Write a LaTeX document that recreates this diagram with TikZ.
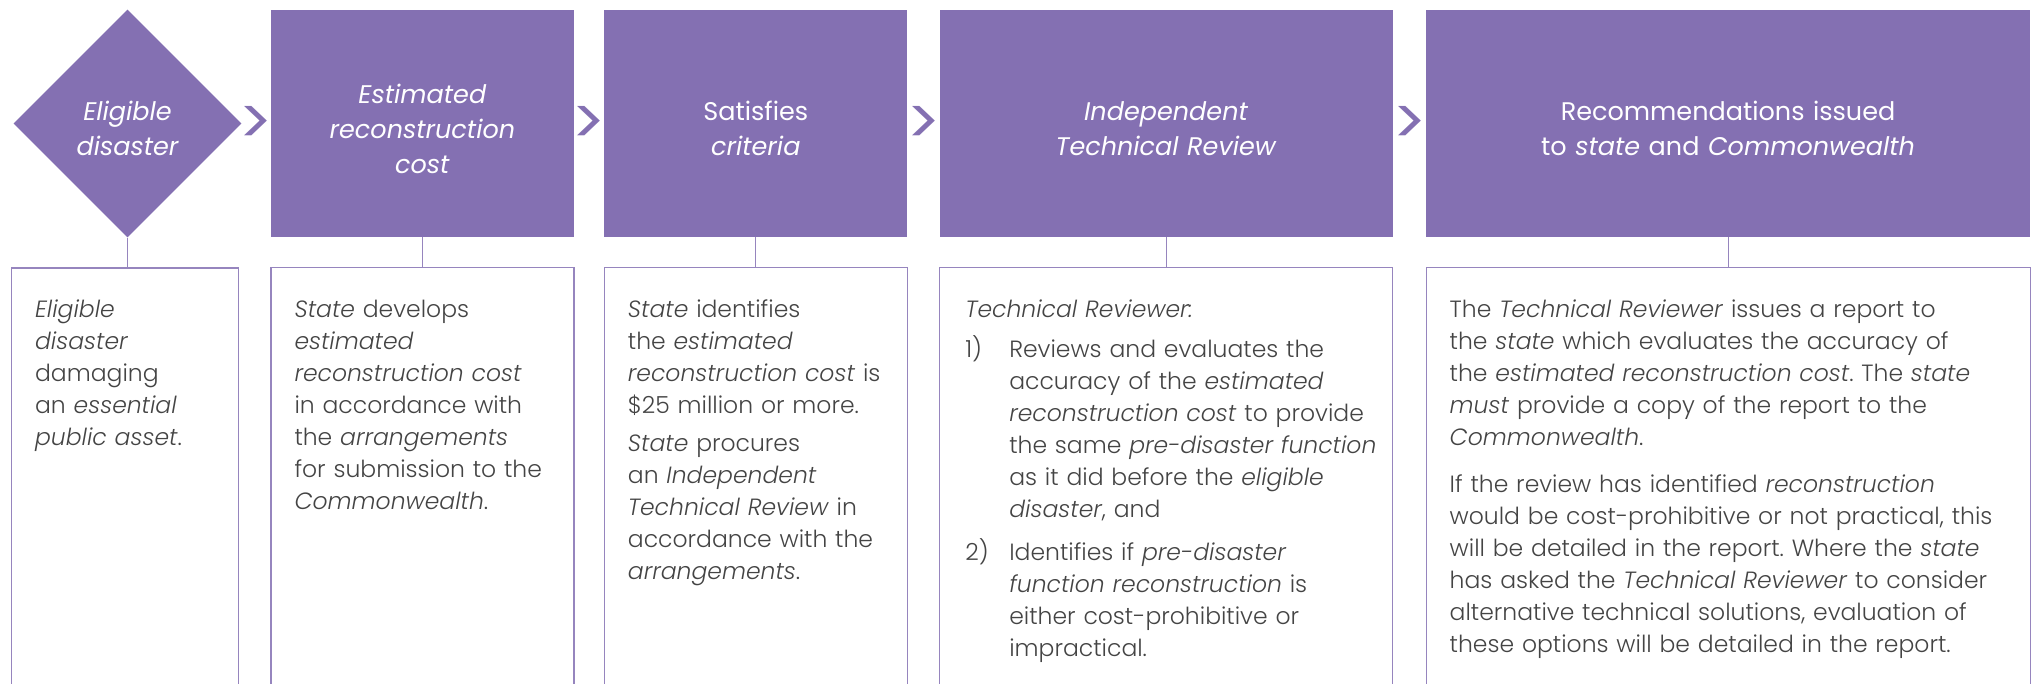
\documentclass[tikz,border=0pt]{standalone}
\usepackage{fontspec}
\setmainfont{Poppins}
\IfFontExistsTF{Poppins Light}{%
  \IfFontExistsTF{Poppins Light Italic}%
    {\newfontfamily\lightface{Poppins Light}[ItalicFont={Poppins Light Italic}]}%
    {\newfontfamily\lightface{Poppins}}}%
  {\newfontfamily\lightface{Poppins}}
\usetikzlibrary{shapes.geometric,positioning,calc}
\definecolor{mauve}{HTML}{8470B2}
\definecolor{bodygrey}{HTML}{444444}
\setlength{\parindent}{0pt}
\frenchspacing
\newcommand{\headfont}{\fontsize{25.5}{35}\selectfont}
\newcommand{\bodyfont}{\lightface\fontsize{23.5}{32}\selectfont}
\newcommand{\subline}{\hspace*{44pt}}

\begin{document}
\begin{tikzpicture}[x=1pt, y=1pt,
  head/.style = {rectangle, fill=mauve, text=white, font=\headfont, align=center, text width=#1, minimum height=227pt, inner sep=0pt, execute at begin node={\rule{0pt}{30pt}}},
  gem/.style = {diamond, aspect=1, fill=mauve, text=white, font=\headfont\itshape, align=center, text width=130pt, minimum size=228pt, inner sep=0pt, execute at begin node={\rule{0pt}{30pt}}},
  frame/.style = {draw=mauve!85, line width=1.2pt, minimum height=440pt, inner sep=0pt},
  body/.style = {text=bodygrey, font=\bodyfont, align=left, inner sep=0pt, execute at begin node=\strut},
  chev/.style = {text=mauve, font=\fontsize{64}{64}\selectfont, inner sep=0pt, yshift=-2pt},
  link/.style = {draw=mauve!85, line width=1.2pt}]
\useasboundingbox (0,0) rectangle (2035,-683);
\clip (0,0) rectangle (2035,-683);

\node[gem](h1) at (127.5,-123.5) {Eligible\\disaster};
\node[head=303pt](h2)[right=29pt of h1]{\textit{Estimated}\\\textit{reconstruction}\\\textit{cost}};
\node[head=303pt](h3)[right=30pt of h2]{Satisfies\\\textit{criteria}};
\node[head=453pt](h4)[right=32pt of h3]{\textit{Independent}\\\textit{Technical Review}};
\node[head=604pt](h5)[right=33pt of h4]{Recommendations issued\\to \textit{state} and \textit{Commonwealth}};

\node[chev](c1) at ($(h1.east)!0.5!(h2.west)$) {>};
\node[chev](c2) at ($(h2.east)!0.5!(h3.west)$) {>};
\node[chev](c3) at ($(h3.east)!0.5!(h4.west)$) {>};
\node[chev](c4) at ($(h4.east)!0.5!(h5.west)$) {>};

\node[frame, minimum width=227pt](f1)[below=29.7pt of h1, xshift=-2.5pt]{};
\node[frame, minimum width=303pt](f2)[below=29.7pt of h2]{};
\node[frame, minimum width=303pt](f3)[below=29.7pt of h3]{};
\node[frame, minimum width=453pt](f4)[below=29.7pt of h4]{};
\node[frame, minimum width=604pt](f5)[below=29.7pt of h5]{};

\draw[link] (h1.south) -- (h1.south |- f1.north);
\draw[link] (h2.south) -- (f2.north);
\draw[link] (h3.south) -- (f3.north);
\draw[link] (h4.south) -- (f4.north);
\draw[link] (h5.south) -- (f5.north);

\node[body, text width=215pt](t1)[below right=27.8pt and 24pt of f1.north west]{\textit{Eligible}\\\textit{disaster}\\damaging\\an \textit{essential}\\\textit{public asset}.};
\node[body, text width=300pt](t2)[below right=27.8pt and 24pt of f2.north west]{\textit{State} develops\\\textit{estimated}\\\textit{reconstruction cost}\\in accordance with\\the \textit{arrangements}\\for submission to the\\\textit{Commonwealth}.};
\node[body, text width=300pt](t3)[below right=27.8pt and 24pt of f3.north west]{\textit{State} identifies\\the \textit{estimated}\\\textit{reconstruction cost} is\\\$25 million or more.\\[6pt]\textit{State} procures\\an \textit{Independent}\\\textit{Technical Review} in\\accordance with the\\\textit{arrangements}.};
\node[body, text width=440pt](t4)[below right=27.8pt and 26pt of f4.north west]{\textit{Technical Reviewer:}\\[8pt]
\makebox[44pt][l]{1)}Reviews and evaluates the\\\subline accuracy of the \textit{estimated}\\\subline\textit{reconstruction cost} to provide\\\subline the same \textit{pre-disaster function}\\\subline as it did before the \textit{eligible}\\\subline\textit{disaster}, and\\[11pt]
\makebox[44pt][l]{2)}Identifies if \textit{pre-disaster}\\\subline\textit{function reconstruction} is\\\subline either cost-prohibitive or\\\subline impractical.};
\node[body, text width=600pt](t5)[below right=27.8pt and 24pt of f5.north west]{The \textit{Technical Reviewer} issues a report to\\the \textit{state} which evaluates the accuracy of\\the \textit{estimated reconstruction cost}. The \textit{state}\\\textit{must} provide a copy of the report to the\\\textit{Commonwealth}.\\[15pt]If the review has identified \textit{reconstruction}\\would be cost-prohibitive or not practical, this\\will be detailed in the report. Where the \textit{state}\\has asked the \textit{Technical Reviewer} to consider\\alternative technical solutions, evaluation of\\these options will be detailed in the report.};
\end{tikzpicture}
\end{document}
